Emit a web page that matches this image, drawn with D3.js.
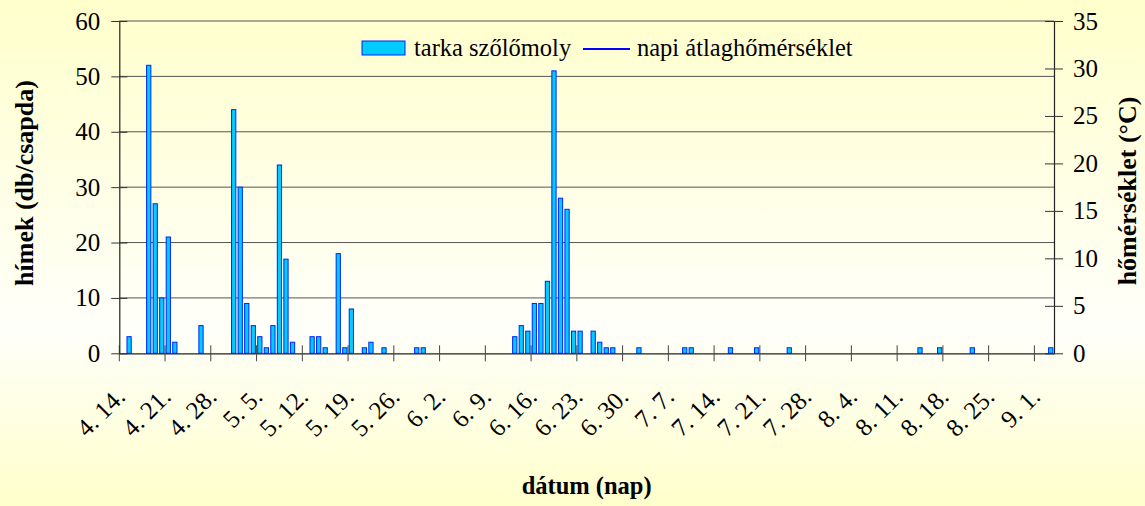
<!DOCTYPE html>
<html>
<head>
<meta charset="utf-8">
<script src="https://cdn.jsdelivr.net/npm/d3@7"></script>
<style>
    body { margin: 0; }
    #chart svg { display: block; }
</style>
</head>
<body>
<div id="chart"></div>
<script>
// napi fogás (hímek / csapda)
const catchDates = ["4. 15.", "4. 18.", "4. 19.", "4. 20.", "4. 21.", "4. 22.", "4. 26.",
    "5. 1.", "5. 2.", "5. 3.", "5. 4.", "5. 5.", "5. 6.", "5. 7.", "5. 8.", "5. 9.", "5. 10.",
    "5. 13.", "5. 14.", "5. 15.", "5. 17.", "5. 18.", "5. 19.", "5. 21.", "5. 22.", "5. 24.",
    "5. 29.", "5. 30.",
    "6. 13.", "6. 14.", "6. 15.", "6. 16.", "6. 17.", "6. 18.", "6. 19.", "6. 20.", "6. 21.",
    "6. 22.", "6. 23.", "6. 25.", "6. 26.", "6. 27.", "6. 28.",
    "7. 2.", "7. 9.", "7. 10.", "7. 16.", "7. 20.", "7. 25.",
    "8. 14.", "8. 17.", "8. 22.", "9. 3."];
const catchCounts = [3, 52, 27, 10, 21, 2, 5,
    44, 30, 9, 5, 3, 1, 5, 34, 17, 2,
    3, 3, 1, 18, 1, 8, 1, 2, 1,
    1, 1,
    3, 5, 4, 9, 9, 13, 51, 28, 26,
    4, 4, 4, 2, 1, 1,
    1, 1, 1, 1, 1, 1,
    1, 1, 1, 1];

const tickLabels = ["4. 14.", "4. 21.", "4. 28.", "5. 5.", "5. 12.", "5. 19.", "5. 26.",
    "6. 2.", "6. 9.", "6. 16.", "6. 23.", "6. 30.", "7. 7.", "7. 14.", "7. 21.", "7. 28.",
    "8. 4.", "8. 11.", "8. 18.", "8. 25.", "9. 1."];
const leftTicks = [0, 10, 20, 30, 40, 50, 60];
const rightTicks = [0, 5, 10, 15, 20, 25, 30, 35];
const seriesNames = ["tarka szőlőmoly", "napi átlaghőmérséklet"];

const firstDay = new Date(2000, 3, 14);
const lastDay = new Date(2000, 8, 3);

const fmtDay = d => `${d.getMonth() + 1}. ${d.getDate()}.`;
const days = d3.timeDay.range(firstDay, d3.timeDay.offset(lastDay, 1)).map(fmtDay);

const W = 1145, H = 506;
const margin = { top: 21, right: 91, bottom: 152.7, left: 119.3 };
const width = W - margin.left - margin.right;
const height = H - margin.top - margin.bottom;
const font = "Liberation Serif";

const root = d3.select("#chart")
    .append("svg")
    .attr("width", W)
    .attr("height", H)
    .attr("font-family", font);

const grad = root.append("defs").append("linearGradient")
    .attr("id", "bg")
    .attr("x1", 0).attr("y1", 0).attr("x2", 0).attr("y2", 1);
grad.append("stop").attr("offset", "0%").attr("stop-color", "#ffffcc");
grad.append("stop").attr("offset", "65%").attr("stop-color", "#fffffa");
grad.append("stop").attr("offset", "100%").attr("stop-color", "#ffffcc");

root.append("rect")
    .attr("width", W)
    .attr("height", H)
    .attr("fill", "url(#bg)");

const svg = root.append("g")
    .attr("transform", `translate(${margin.left},${margin.top})`);

const x = d3.scaleBand()
    .domain(days)
    .range([0, width])
    .paddingInner(0.35)
    .paddingOuter(0.175);

const y = d3.scaleLinear().domain([0, 60]).range([height, 0]);
const y2 = d3.scaleLinear().domain([0, 35]).range([height, 0]);

// rácsvonalak
svg.append("g")
    .selectAll("line")
    .data(leftTicks.slice(1))
    .enter()
    .append("line")
    .attr("x1", 0)
    .attr("x2", width)
    .attr("y1", d => y(d))
    .attr("y2", d => y(d))
    .attr("stroke", "#555")
    .attr("stroke-width", 1);

// oszlopok
svg.selectAll(".bar")
    .data(catchDates.map((d, i) => ({ day: d, value: catchCounts[i] })))
    .enter()
    .append("rect")
    .attr("class", "bar")
    .attr("x", d => x(d.day))
    .attr("y", d => y(d.value))
    .attr("width", x.bandwidth())
    .attr("height", d => height - y(d.value))
    .attr("fill", "#00ccff")
    .attr("stroke", "#0022ff")
    .attr("stroke-width", 1);

// x tengely
const xAxis = svg.append("g")
    .attr("transform", `translate(0,${height})`)
    .call(d3.axisBottom(x).tickValues(tickLabels).tickSizeOuter(0))
    .attr("font-family", font)
    .attr("font-size", 25);
xAxis.select(".domain").attr("stroke", "#222").attr("stroke-width", 1.2);
xAxis.selectAll(".tick line")
    .attr("x1", -x.step() / 2)
    .attr("x2", -x.step() / 2)
    .attr("y1", -8)
    .attr("y2", 8)
    .attr("stroke", "#444");
xAxis.selectAll("text")
    .attr("fill", "#000")
    .attr("y", 0)
    .attr("dy", 0)
    .attr("text-anchor", "end")
    .attr("transform", "translate(4,45) rotate(-45)");

// bal tengely
const yAxis = svg.append("g")
    .call(d3.axisLeft(y).tickValues(leftTicks).tickSizeOuter(0))
    .attr("font-family", font)
    .attr("font-size", 25);
yAxis.select(".domain").attr("stroke", "#222").attr("stroke-width", 1.2);
yAxis.selectAll(".tick line").attr("x1", 8).attr("x2", -8).attr("stroke", "#333");
yAxis.selectAll("text")
    .attr("x", -19)
    .attr("fill", "#000");

// jobb tengely
const y2Axis = svg.append("g")
    .attr("transform", `translate(${width},0)`)
    .call(d3.axisRight(y2).tickValues(rightTicks).tickSizeOuter(0))
    .attr("font-family", font)
    .attr("font-size", 25);
y2Axis.select(".domain").attr("stroke", "#222").attr("stroke-width", 1.2);
y2Axis.selectAll(".tick line").attr("x1", -9).attr("x2", 9).attr("stroke", "#333");
y2Axis.selectAll("text")
    .attr("x", 19)
    .attr("fill", "#000");

// tengelycímek
root.append("text")
    .attr("transform", "translate(33,183) rotate(-90)")
    .attr("text-anchor", "middle")
    .attr("font-weight", "bold")
    .attr("font-size", 26)
    .text("hímek (db/csapda)");

root.append("text")
    .attr("transform", "translate(1136,191) rotate(-90)")
    .attr("text-anchor", "middle")
    .attr("font-weight", "bold")
    .attr("font-size", 26)
    .text("hőmérséklet (°C)");

root.append("text")
    .attr("x", margin.left + width / 2)
    .attr("y", 494)
    .attr("text-anchor", "middle")
    .attr("font-weight", "bold")
    .attr("font-size", 24.5)
    .text("dátum (nap)");

// jelmagyarázat
const legend = root.append("g").attr("font-size", 24.5);
legend.append("rect")
    .attr("x", 362).attr("y", 41)
    .attr("width", 43).attr("height", 14)
    .attr("fill", "#00ccff")
    .attr("stroke", "#0022ff");
legend.append("text")
    .attr("x", 414).attr("y", 56)
    .text(seriesNames[0]);
legend.append("line")
    .attr("x1", 583).attr("x2", 630)
    .attr("y1", 49).attr("y2", 49)
    .attr("stroke", "#0000ff")
    .attr("stroke-width", 2);
legend.append("text")
    .attr("x", 637).attr("y", 56)
    .text(seriesNames[1]);
</script>
</body>
</html>
